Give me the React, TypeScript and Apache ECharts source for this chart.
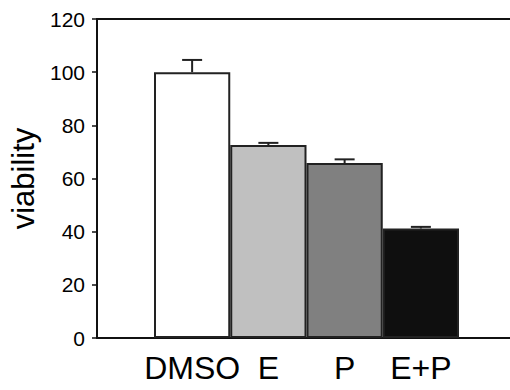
import React, { useEffect, useRef } from "react";
import * as echarts from "echarts";

const categories = ["DMSO", "E", "P", "E+P"];
const viability = [100, 72.6, 65.8, 41.2];
const errors = [4.6, 0.8, 1.4, 0.6];
const barColors = ["#ffffff", "#c0c0c0", "#808080", "#0f0f0f"];
const yTicks = { min: 0, max: 120, interval: 20 };

export default function App() {
  const ref = useRef<HTMLDivElement>(null);
  useEffect(() => {
    const chart = echarts.init(ref.current!, null, { renderer: "svg" });
    const font = "Liberation Sans, Arial, sans-serif";
    const frameAxis = (position: string) => ({
      type: "value",
      gridIndex: 0,
      position,
      min: 0,
      max: 1,
      axisLine: { show: true, onZero: false, lineStyle: { color: "#111", width: 2 } },
      axisTick: { show: false },
      axisLabel: { show: false },
      splitLine: { show: false },
    });
    chart.setOption({
      animation: false,
      grid: [
        { left: 97, top: 19, right: 0, bottom: 52 },
        { left: 154, width: 305, top: 19, bottom: 52 },
      ],
      xAxis: [
        frameAxis("bottom"),
        frameAxis("top"),
        {
          type: "category",
          gridIndex: 1,
          data: categories,
          axisLine: { show: false },
          axisTick: { show: false },
          axisLabel: { color: "#000", fontFamily: font, fontSize: 32, margin: 14, interval: 0 },
        },
      ],
      yAxis: [
        {
          type: "value",
          gridIndex: 0,
          min: yTicks.min,
          max: yTicks.max,
          interval: yTicks.interval,
          name: "viability",
          nameLocation: "middle",
          nameRotate: 90,
          nameGap: 52,
          nameTextStyle: { color: "#000", fontFamily: font, fontSize: 31 },
          axisLine: { show: true, lineStyle: { color: "#111", width: 2 } },
          axisTick: { show: true, inside: false, length: 5, lineStyle: { color: "#111", width: 1.5 } },
          axisLabel: { color: "#000", fontFamily: font, fontSize: 21, margin: 12 },
          splitLine: { show: false },
        },
        { type: "value", gridIndex: 1, min: yTicks.min, max: yTicks.max, show: false },
      ],
      series: [
        {
          type: "bar",
          xAxisIndex: 2,
          yAxisIndex: 1,
          barCategoryGap: "0%",
          data: viability.map((v, i) => ({
            value: v,
            itemStyle: { color: barColors[i], borderColor: "#222", borderWidth: 2 },
          })),
        },
        {
          type: "custom",
          xAxisIndex: 2,
          yAxisIndex: 1,
          data: viability.map((v, i) => [i, v, errors[i]]),
          encode: { x: 0, y: 1 },
          renderItem: (params: any, api: any) => {
            const idx = api.value(0);
            const v = api.value(1);
            const e = api.value(2);
            const base = api.coord([idx, v]);
            const top = api.coord([idx, v + e]);
            const hw = 10;
            const style = { stroke: "#222", lineWidth: 2, fill: "none" };
            return {
              type: "group",
              children: [
                { type: "line", shape: { x1: base[0], y1: base[1], x2: top[0], y2: top[1] }, style },
                { type: "line", shape: { x1: top[0] - hw, y1: top[1], x2: top[0] + hw, y2: top[1] }, style },
              ],
            };
          },
          z: 3,
        },
      ],
    });
    return () => chart.dispose();
  }, []);
  return (
    <div
      ref={ref}
      style={{ position: "fixed", left: 0, top: 0, width: 510, height: 390, background: "#fff" }}
    />
  );
}
